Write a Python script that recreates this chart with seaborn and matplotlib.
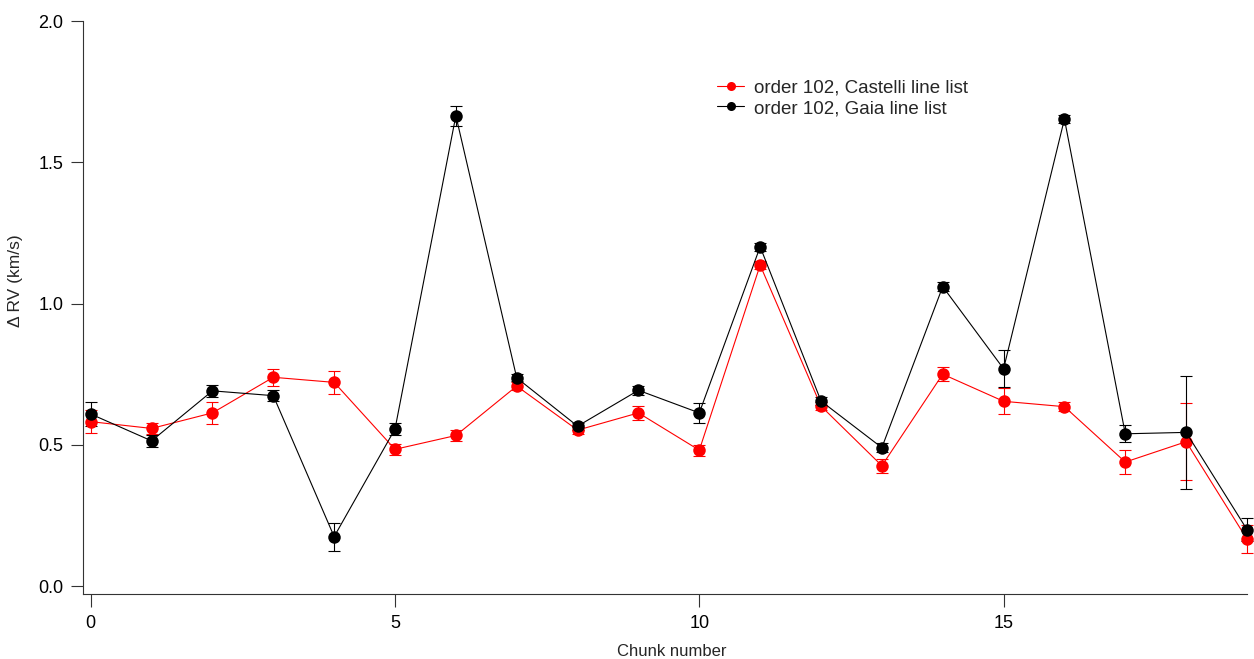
import numpy as np
import pandas as pd
import matplotlib
matplotlib.use("Agg")
import matplotlib.pyplot as plt
import seaborn as sns
from matplotlib.lines import Line2D

chunks = list(range(20))
castelli_rv = [0.582, 0.558, 0.613, 0.739, 0.721, 0.484, 0.533, 0.708, 0.552, 0.613,
               0.481, 1.136, 0.637, 0.426, 0.750, 0.654, 0.635, 0.439, 0.511, 0.166]
castelli_err = [0.04, 0.02, 0.04, 0.03, 0.04, 0.02, 0.02, 0.015, 0.012, 0.025,
                0.02, 0.015, 0.015, 0.025, 0.025, 0.046, 0.015, 0.042, 0.136, 0.05]
gaia_rv = [0.609, 0.514, 0.691, 0.674, 0.175, 0.556, 1.665, 0.737, 0.566, 0.693,
           0.613, 1.201, 0.655, 0.490, 1.060, 0.769, 1.653, 0.539, 0.544, 0.200]
gaia_err = [0.042, 0.02, 0.02, 0.02, 0.05, 0.02, 0.035, 0.012, 0.012, 0.015,
            0.035, 0.015, 0.015, 0.015, 0.015, 0.065, 0.015, 0.03, 0.2, 0.042]
labels = ["order 102, Castelli line list", "order 102, Gaia line list"]
yticks = [0.0, 0.5, 1.0, 1.5, 2.0]
xticks = [0, 5, 10, 15]

sns.set_style("ticks")
plt.rcParams['font.family'] = ['Liberation Sans', 'DejaVu Sans']

df = pd.DataFrame({
    "chunk": chunks * 2,
    "rv": castelli_rv + gaia_rv,
    "series": [labels[0]] * 20 + [labels[1]] * 20,
})

fig = plt.figure(figsize=(12.54, 6.59), dpi=100)
ax = fig.add_axes([83 / 1254, 65 / 659, (1247 - 83) / 1254, (594 - 21) / 659])

palette = {labels[0]: "#ff0000", labels[1]: "#000000"}
for lab, err, rv in [(labels[0], castelli_err, castelli_rv), (labels[1], gaia_err, gaia_rv)]:
    eb = ax.errorbar(chunks, rv, yerr=err, fmt="none", ecolor=palette[lab],
                     elinewidth=0.8, capsize=4.5, capthick=0.8, zorder=2)
    for art in eb.lines[1] + eb.lines[2]:
        art.set_clip_on(False)

sns.lineplot(data=df, x="chunk", y="rv", hue="series", palette=palette,
             marker="o", markersize=9, markeredgewidth=0, linewidth=0.8,
             ax=ax, legend=False, zorder=3)
for ln in ax.lines:
    ln.set_clip_on(False)

ax.set_xlim(-0.127, 19)
ax.set_ylim(-0.028, 2.0)
ax.set_xticks(xticks)
ax.set_yticks(yticks)
ax.set_yticklabels([f"{v:.1f}" for v in yticks])
sns.despine(ax=ax)
for s in ["left", "bottom"]:
    ax.spines[s].set_linewidth(0.8)
    ax.spines[s].set_color("#333333")
ax.tick_params(axis="both", direction="out", length=9, width=0.8, colors="#333333",
               labelsize=13, labelcolor="black")
ax.tick_params(axis="y", pad=5)
ax.tick_params(axis="x", pad=6)

ax.set_xlabel("Chunk number", fontsize=12)
ax.xaxis.set_label_coords((672 - 83) / 1164, -(652 - 594) / 573)
ax.xaxis.label.set_va("center")
ax.set_ylabel("\u0394 RV (km/s)", fontsize=12.5)
ax.yaxis.set_label_coords(-(83 - 16) / 1164, (594 - 281) / 573)
ax.yaxis.label.set_va("center")

handles = [Line2D([0], [0], color=palette[l], marker="o", markersize=6.5, linewidth=0.8,
                  markeredgewidth=0) for l in labels]
leg = ax.legend(handles, labels, loc="upper left",
                bbox_to_anchor=((717 - 83) / 1164, (594 - 79) / 573),
                frameon=False, fontsize=13.5, handlelength=1.45, handletextpad=0.5,
                labelspacing=0.2, borderpad=0, borderaxespad=0)

fig.savefig("out.png", dpi=100)
